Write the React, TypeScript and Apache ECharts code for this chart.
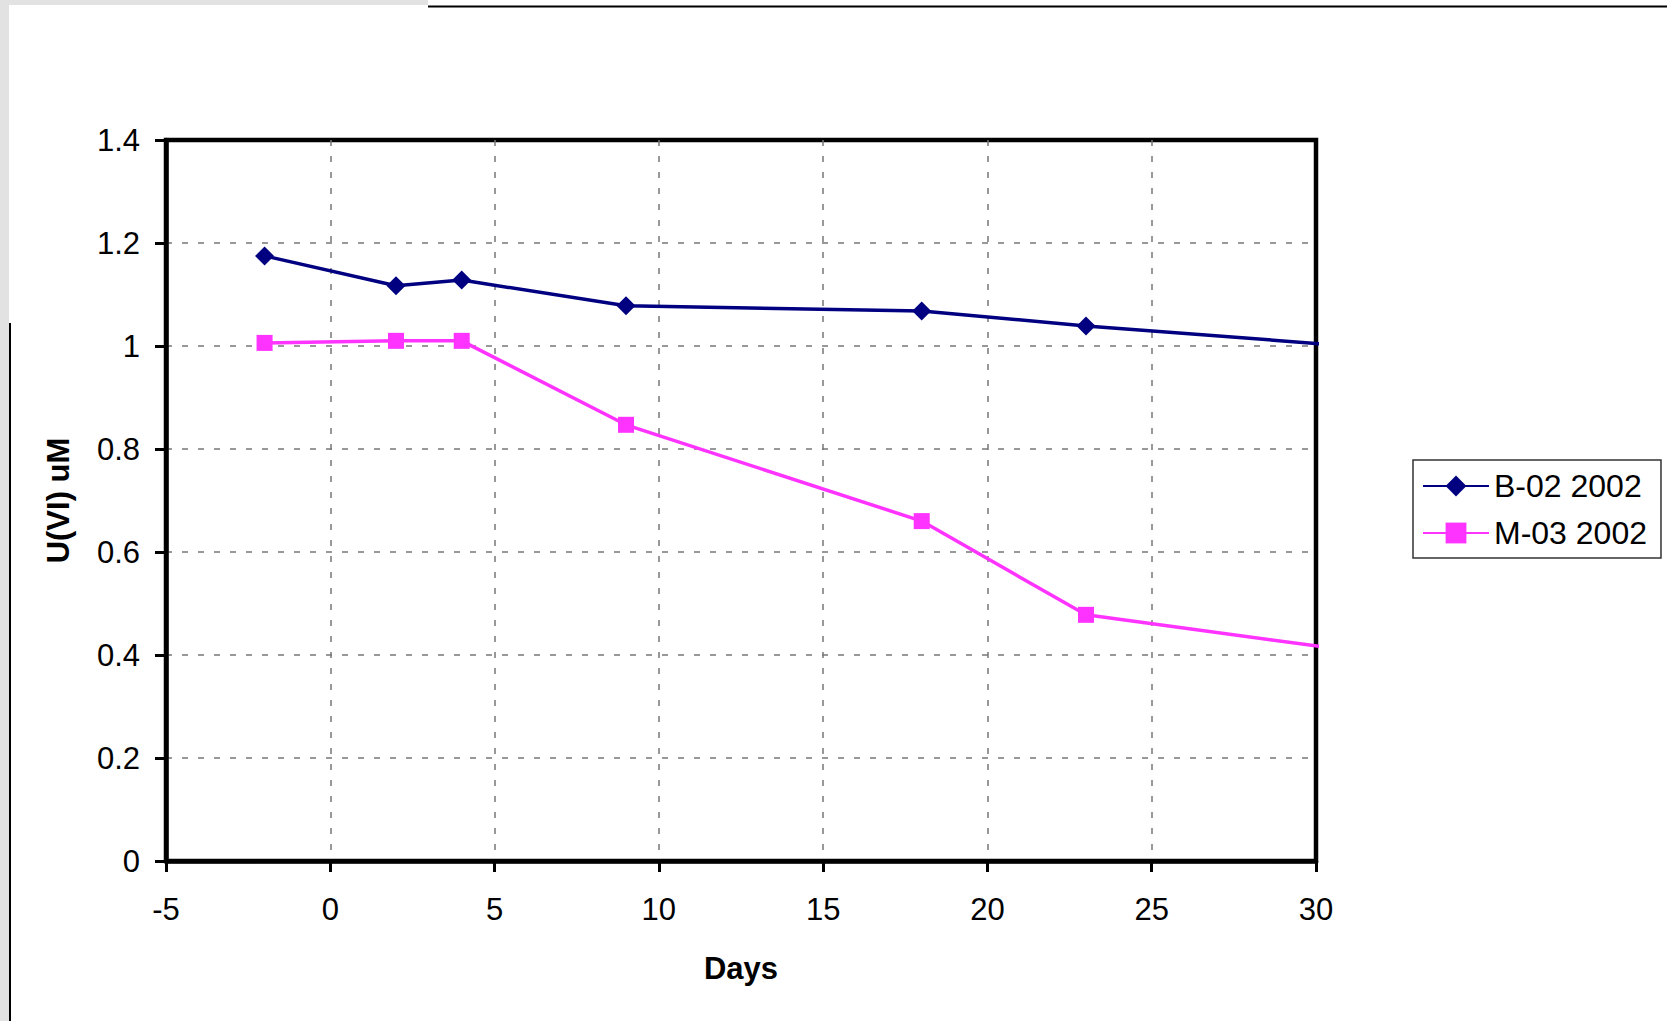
import React, { useEffect, useRef } from "react";
import * as echarts from "echarts";

const daysB = [-2, 2, 4, 9, 18, 23, 30.2];
const valuesB = [1.175, 1.117, 1.128, 1.078, 1.068, 1.039, 1.004];
const daysM = [-2, 2, 4, 9, 18, 23, 30.2];
const valuesM = [1.006, 1.01, 1.01, 0.847, 0.66, 0.478, 0.416];
const seriesNames = ["B-02 2002", "M-03 2002"];
const xTitle = "Days";
const yTitle = "U(VI) uM";

const FONT = "'Liberation Sans', Arial, sans-serif";

function toData(xs: number[], ys: number[]) {
  return xs.map((x, i) =>
    i === xs.length - 1 ? { value: [x, ys[i]], symbol: "none" } : { value: [x, ys[i]] }
  );
}

export default function App() {
  const ref = useRef<HTMLDivElement>(null);
  useEffect(() => {
    if (!ref.current) return;
    const chart = echarts.init(ref.current, undefined, { renderer: "svg" });
    chart.setOption({
      animation: false,
      backgroundColor: "#ffffff",
      textStyle: { fontFamily: FONT },
      graphic: [
        { type: "rect", shape: { x: 0, y: 0, width: 9, height: 1021 }, style: { fill: "#e2e2e2" }, silent: true },
        { type: "rect", shape: { x: 0, y: 0, width: 428, height: 5 }, style: { fill: "#e2e2e2" }, silent: true },
        { type: "line", shape: { x1: 428, y1: 6.5, x2: 1667, y2: 6.5 }, style: { stroke: "#000", lineWidth: 2 }, silent: true },
        { type: "line", shape: { x1: 10, y1: 323, x2: 10, y2: 1021 }, style: { stroke: "#000", lineWidth: 2 }, silent: true },
      ],
      grid: {
        left: 166,
        top: 140,
        width: 1150,
        height: 721,
        show: true,
        borderColor: "#000",
        borderWidth: 4.5,
        backgroundColor: "#fff",
      },
      legend: {
        orient: "vertical",
        left: 1413,
        top: 460,
        padding: [10, 14, 9, 9],
        itemGap: 15,
        itemWidth: 66,
        itemHeight: 26,
        borderColor: "#333",
        borderWidth: 1.5,
        backgroundColor: "#fff",
        textStyle: { fontSize: 32, color: "#000", fontFamily: FONT },
        data: seriesNames,
      },
      xAxis: {
        type: "value",
        min: -5,
        max: 30,
        interval: 5,
        name: xTitle,
        nameLocation: "middle",
        nameGap: 92,
        nameTextStyle: { fontSize: 31, fontWeight: "bold", color: "#000", fontFamily: FONT },
        axisLine: { show: true, onZero: false, lineStyle: { color: "#000", width: 4.5 } },
        axisTick: { show: true, length: 11, lineStyle: { color: "#000", width: 3 } },
        axisLabel: { fontSize: 31, color: "#000", margin: 33, fontFamily: FONT },
        splitLine: {
          show: true,
          showMinLine: false,
          showMaxLine: false,
          lineStyle: { color: "#777", width: 1.5, type: [6, 10] },
        },
      },
      yAxis: {
        type: "value",
        min: 0,
        max: 1.4,
        interval: 0.2,
        name: yTitle,
        nameLocation: "middle",
        nameGap: 92,
        nameRotate: 90,
        nameTextStyle: { fontSize: 31, fontWeight: "bold", color: "#000", fontFamily: FONT },
        axisLine: { show: true, onZero: false, lineStyle: { color: "#000", width: 4.5 } },
        axisTick: { show: true, length: 11, lineStyle: { color: "#000", width: 3 } },
        axisLabel: { fontSize: 31, color: "#000", margin: 26, fontFamily: FONT },
        splitLine: {
          show: true,
          showMinLine: false,
          showMaxLine: false,
          lineStyle: { color: "#777", width: 1.5, type: [6, 10] },
        },
      },
      series: [
        {
          name: seriesNames[0],
          type: "line",
          data: toData(daysB, valuesB),
          symbol: "diamond",
          symbolSize: 19,
          clip: false,
          itemStyle: { color: "#000080" },
          lineStyle: { color: "#000080", width: 3.5 },
        },
        {
          name: seriesNames[1],
          type: "line",
          data: toData(daysM, valuesM),
          symbol: "rect",
          symbolSize: 16,
          clip: false,
          itemStyle: { color: "#ff33ff" },
          lineStyle: { color: "#ff33ff", width: 3.5 },
        },
      ],
    });
    return () => chart.dispose();
  }, []);
  return (
    <div
      ref={ref}
      style={{ position: "fixed", left: 0, top: 0, width: 1667, height: 1021 }}
    />
  );
}
